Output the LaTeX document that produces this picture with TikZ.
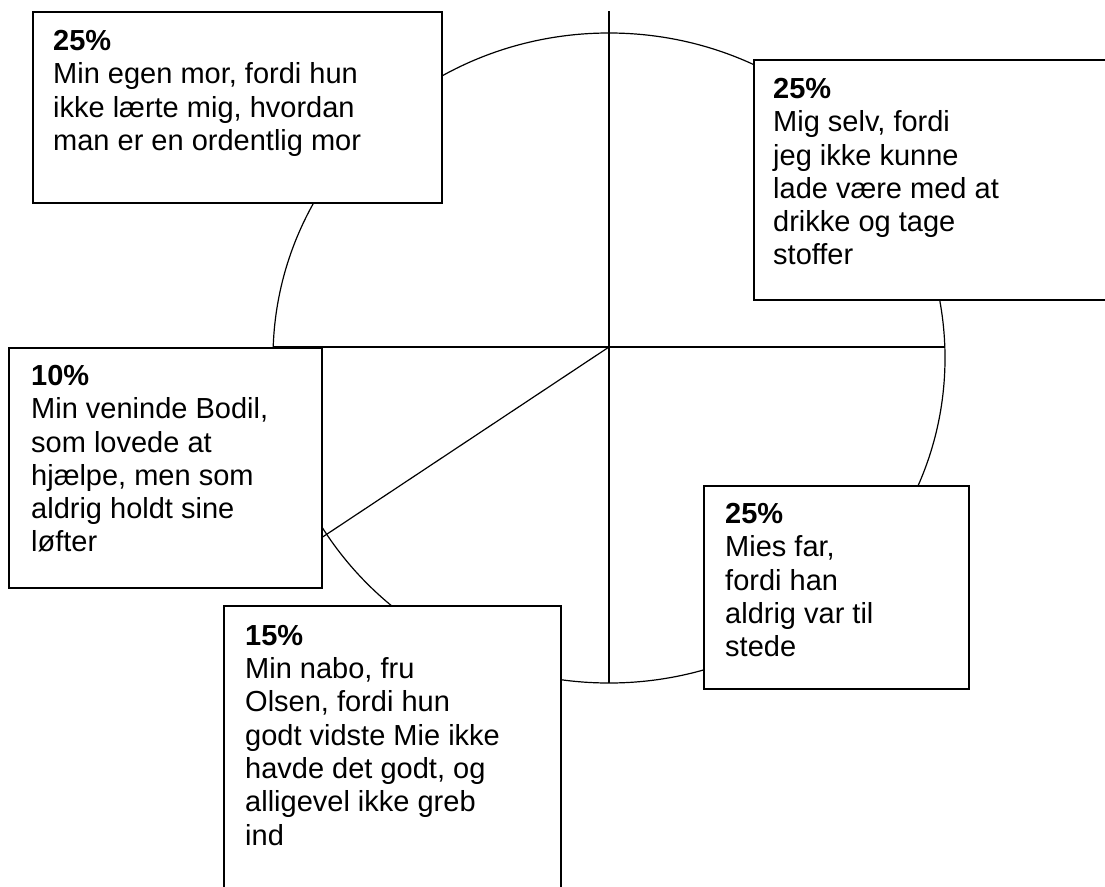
\documentclass[tikz,border=0pt]{standalone}
\usepackage{fontspec}
\setmainfont{Liberation Sans}
\begin{document}
\begin{tikzpicture}[x=1pt,y=-1pt,
  box/.style={draw=black, line width=1.5pt, fill=white, inner sep=0pt, anchor=north west},
  pie/.style={draw=black, line width=1.2pt},
  txt/.style={anchor=north west, inner sep=0pt, align=left, font=\fontsize{29}{33.3}\selectfont}]
\useasboundingbox (0,0) rectangle (1105,886);
\clip (0,0) rectangle (1105,886);
% pie
\coordinate (c) at (609,358);
\coordinate (o) at (609,347);
\coordinate (t) at (609,11);
\coordinate (b) at (609,683);
\coordinate (l) at (273,347);
\coordinate (r) at (945,347);
\coordinate (d) at (300,552);
\draw[pie] (c) ellipse [x radius=336pt, y radius=325pt];
\draw[pie] (t) -- (b);
\draw[pie] (l) -- (r);
\draw[pie] (o) -- (d);
% boxes
\node[box, minimum width=409pt, minimum height=191pt] (b1) at (32,11) {};
\node[box, minimum width=380pt, minimum height=240pt] (b2) at (753,59) {};
\node[box, minimum width=313pt, minimum height=240pt] (b3) at (8,347) {};
\node[box, minimum width=265pt, minimum height=203pt] (b4) at (703,485) {};
\node[box, minimum width=337pt, minimum height=320pt] (b5) at (223,605) {};
% texts
\node[txt] (t1) at ([xshift=21pt,yshift=-19pt]b1.north west)
  {\textbf{25\%}\\Min egen mor, fordi hun\\ikke lærte mig, hvordan\\man er en ordentlig mor};
\node[txt] (t2) at ([xshift=20pt,yshift=-19pt]b2.north west)
  {\textbf{25\%}\\Mig selv, fordi\\jeg ikke kunne\\lade være med at\\drikke og tage\\stoffer};
\node[txt] (t3) at ([xshift=23pt,yshift=-18pt]b3.north west)
  {\textbf{10\%}\\Min veninde Bodil,\\som lovede at\\hjælpe, men som\\aldrig holdt sine\\løfter};
\node[txt] (t4) at ([xshift=22pt,yshift=-18pt]b4.north west)
  {\textbf{25\%}\\Mies far,\\fordi han\\aldrig var til\\stede};
\node[txt] (t5) at ([xshift=22pt,yshift=-20pt]b5.north west)
  {\textbf{15\%}\\Min nabo, fru\\Olsen, fordi hun\\godt vidste Mie ikke\\havde det godt, og\\alligevel ikke greb\\ind};
\end{tikzpicture}
\end{document}
